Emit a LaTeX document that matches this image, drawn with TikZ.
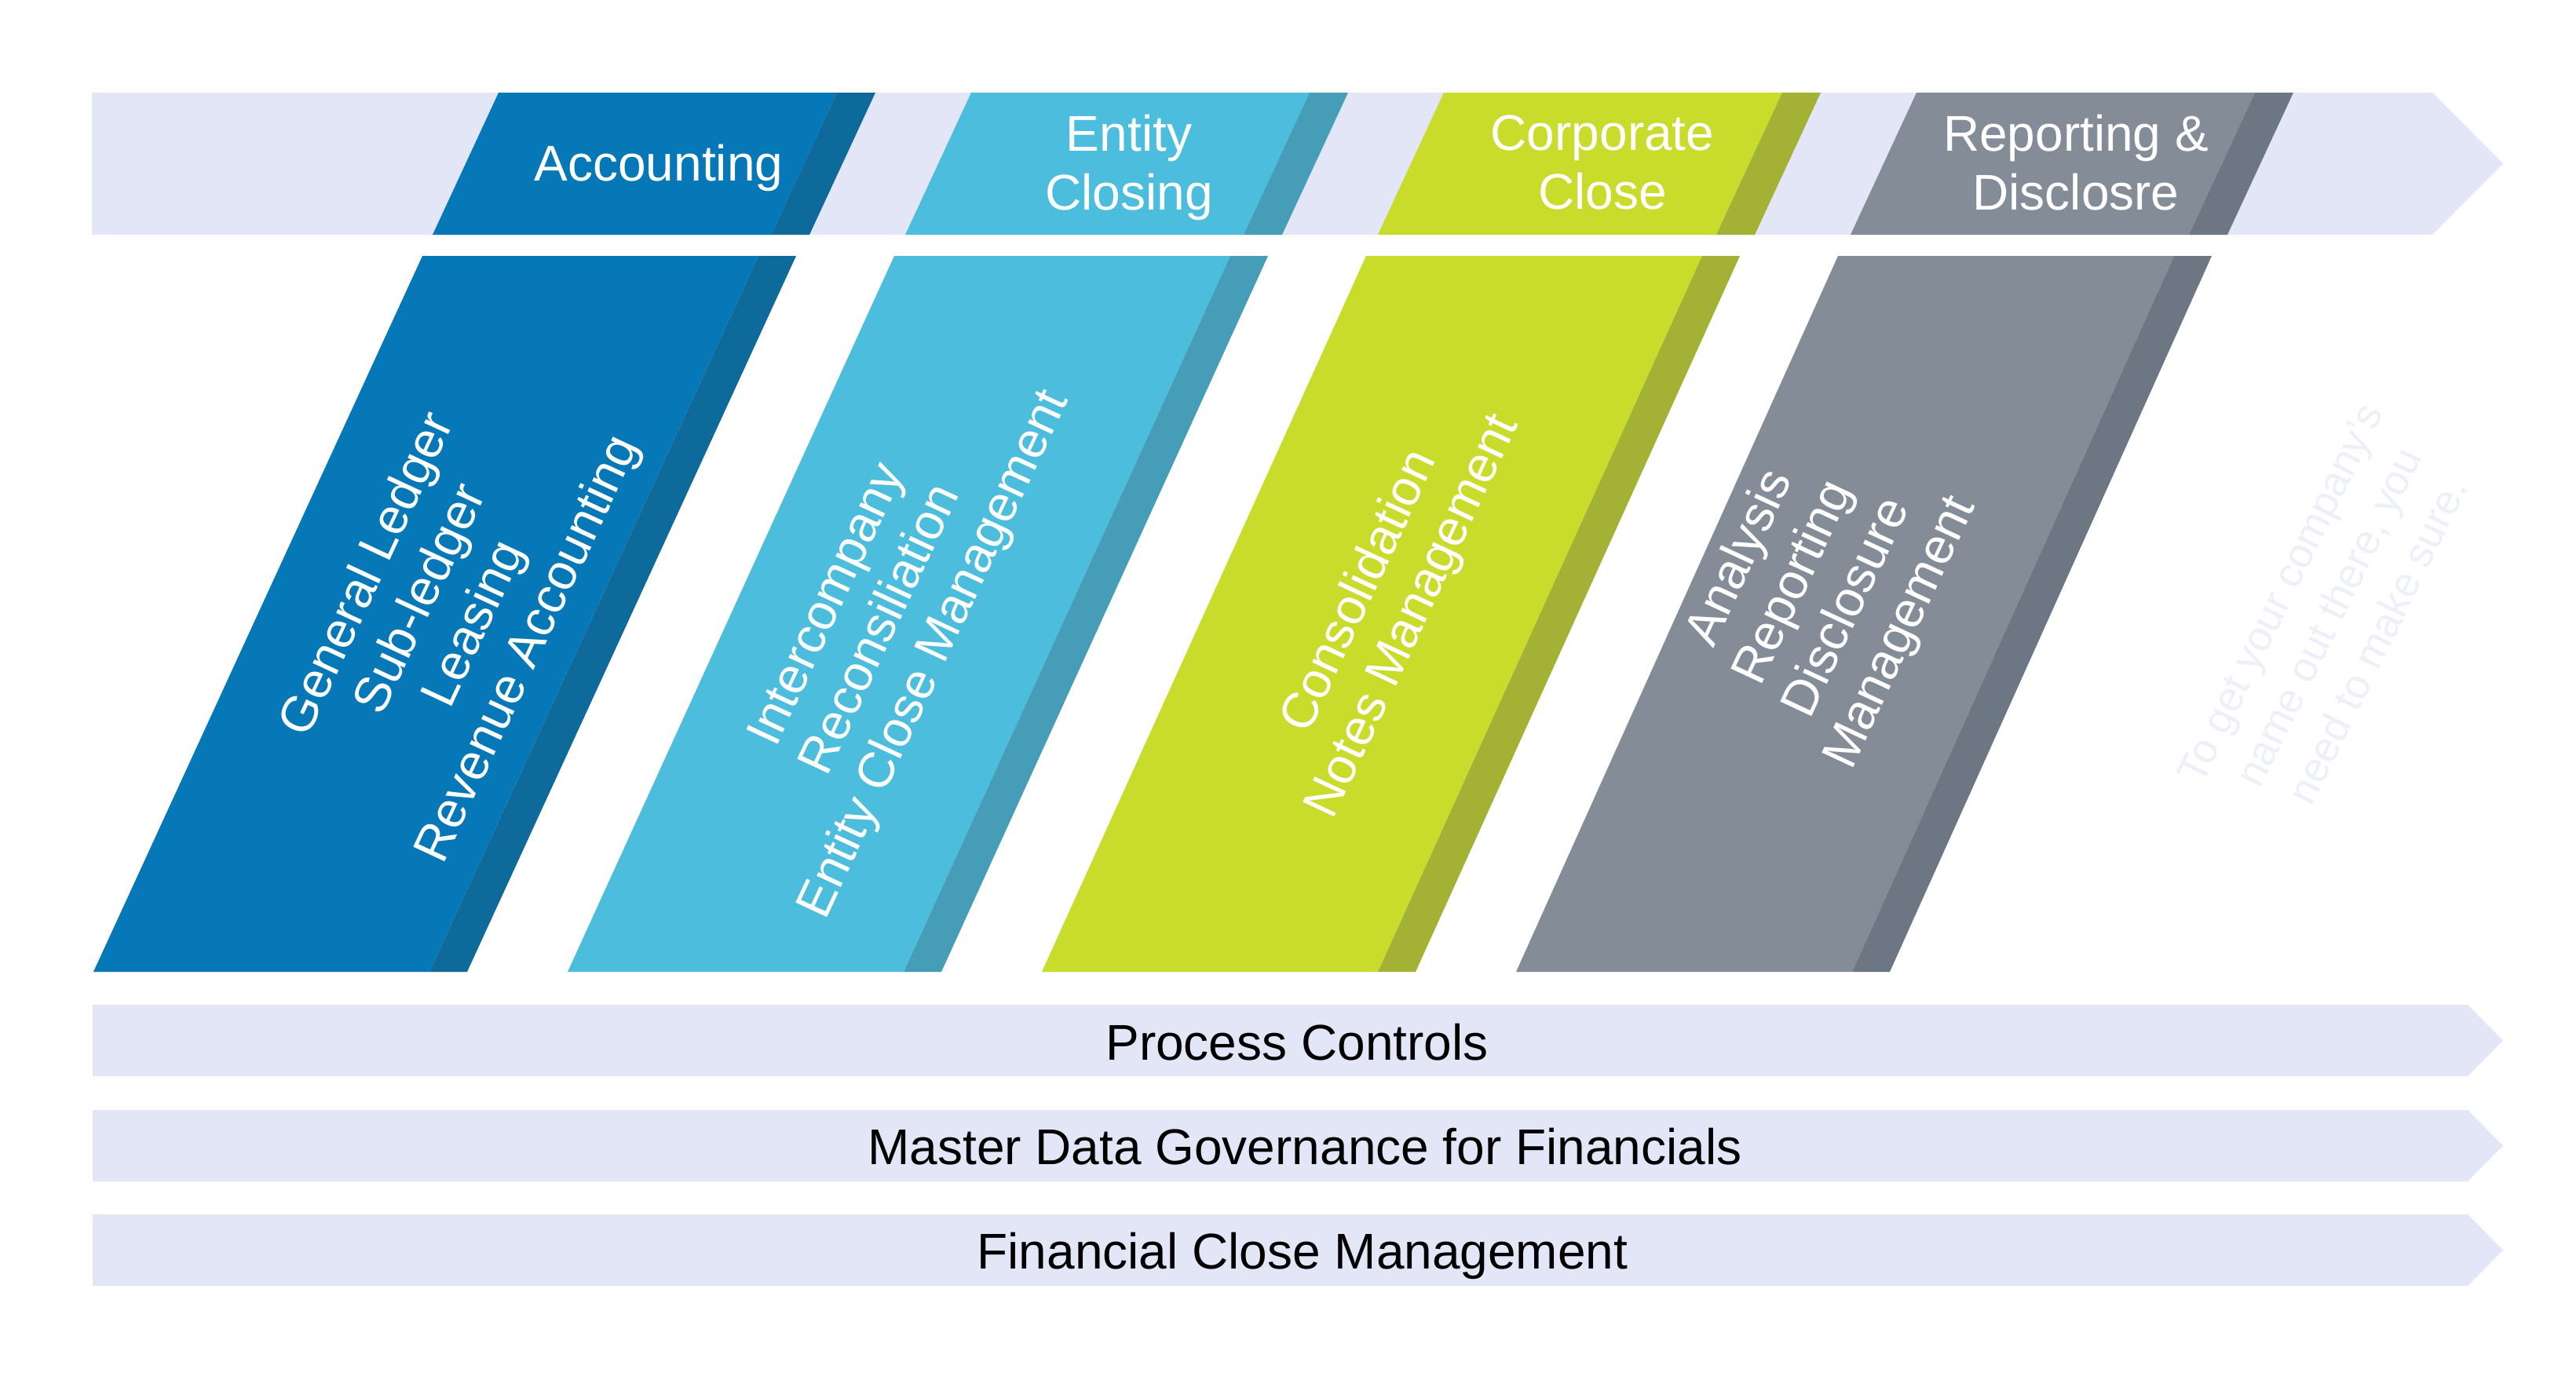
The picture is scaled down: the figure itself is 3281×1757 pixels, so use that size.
\documentclass[tikz,border=0pt]{standalone}
\usepackage{fontspec}
\setmainfont{Liberation Sans}
\definecolor{acc}{HTML}{0678B8}
\definecolor{accD}{HTML}{0F6A9C}
\definecolor{ent}{HTML}{4CBDDD}
\definecolor{entD}{HTML}{459DB8}
\definecolor{cor}{HTML}{C9DB2B}
\definecolor{corD}{HTML}{A3B234}
\definecolor{rep}{HTML}{848D97}
\definecolor{repD}{HTML}{6D7784}
\definecolor{bandc}{HTML}{E2E6F6}
\definecolor{wmc}{HTML}{EEF0F9}
\begin{document}
\begin{tikzpicture}[x=1pt,y=-1pt,
  toptxt/.style={text=white, font=\fontsize{64}{75}\selectfont, align=center, inner sep=0pt},
  lowtxt/.style={text=white, font=\fontsize{64}{75}\selectfont, align=center, inner sep=0pt, rotate=65},
  bartxt/.style={text=black, font=\fontsize{64}{75}\selectfont, inner sep=0pt, anchor=base},
  wmtxt/.style={text=wmc, font=\fontsize{53}{69}\selectfont, align=center, inner sep=0pt, rotate=64}]
\useasboundingbox (0,0) rectangle (3281,1757);
\fill[white] (0,0) rectangle (3281,1757);
% top chevron band
\fill[bandc] (117,118) -- (3098,118) -- (3188,208.5) -- (3098,299) -- (117,299) -- cycle;
% top parallelograms
\foreach \i/\c/\d in {0/acc/accD, 1/ent/entD, 2/cor/corD, 3/rep/repD}{
  \fill[\c] ({635+602*\i},118) -- ({1066+602*\i},118) -- ({982+602*\i},299) -- ({551+602*\i},299) -- cycle;
  \fill[\d] ({1066+602*\i},118) -- ({1115+602*\i},118) -- ({1031+602*\i},299) -- ({982+602*\i},299) -- cycle;
}
% lower parallelograms
\foreach \i/\c/\d in {0/acc/accD, 1/ent/entD, 2/cor/corD, 3/rep/repD}{
  \fill[\c] ({538+601*\i},326) -- ({966+601*\i},326) -- ({547+604*\i},1238) -- ({119+604*\i},1238) -- cycle;
  \fill[\d] ({966+601*\i},326) -- ({1014+601*\i},326) -- ({595+604*\i},1238) -- ({547+604*\i},1238) -- cycle;
}
% bottom bands
\foreach \y in {1280,1414,1547}{
  \fill[bandc] (118,\y) -- (3143,\y) -- (3188,{\y+45.5}) -- (3143,{\y+91}) -- (118,{\y+91}) -- cycle;
}
% top labels
\node[toptxt, anchor=base] (tAcc) at (839,230) {Accounting};
\node[toptxt] (tEnt) at (1438,213) {Entity\\Closing};
\node[toptxt] (tCor) at (2041,207) {Corporate\\Close};
\node[toptxt] (tRep) at (2644,207) {Reporting \&\\Disclosre};
% lower labels
\node[lowtxt] (lAcc) at (572,780) {General Ledger\\Sub-ledger\\Leasing\\Revenue Accounting};
\node[lowtxt] (lEnt) at (1124,803) {Intercompany\\Reconsiliation\\Entity Close Management};
\node[lowtxt] (lCor) at (1767,770) {Consolidation\\Notes Management};
\node[lowtxt] (lRep) at (2320,759) {Analysis\\Reporting\\Disclosure\\Management};
\node[wmtxt] (wm) at (2966,786) {To get your company’s\\name out there, you\\need to make sure.};
% band labels
\node[bartxt] (bPC) at (1652,1350) {Process Controls};
\node[bartxt] (bMD) at (1662,1483.5) {Master Data Governance for Financials};
\node[bartxt] (bFC) at (1659,1616.5) {Financial Close Management};
\end{tikzpicture}
\end{document}
